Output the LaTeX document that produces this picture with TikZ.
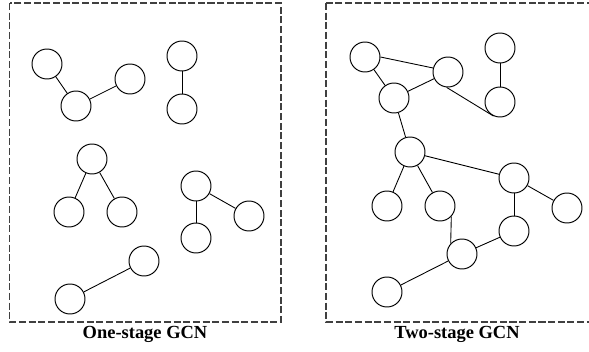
\documentclass[tikz,border=0pt]{standalone}
\usepackage{fontspec}
\setmainfont{Liberation Serif}
\tikzset{
  vtx/.style={draw, circle, line width=0.55pt, minimum size=0.6cm, inner sep=0pt},
  edge/.style={line width=0.5pt},
  frame/.style={draw=black!75, line width=0.6pt, dash pattern=on 4pt off 1.5pt},
  caption/.style={font=\fontsize{10.5}{12}\selectfont\bfseries}
}
\begin{document}
\begin{tikzpicture}[x=0.02cm, y=-0.02cm]
\useasboundingbox (0,0) rectangle (589,352);
\draw[frame] (9.5,3) rectangle (281,322);
\draw[frame] (326,3) rectangle (595,322);
\node[caption] (cap1) at (145,334) {One-stage GCN};
\node[caption] (cap2) at (457,334) {Two-stage GCN};
% one-stage
\node[vtx] (a1) at (47,64) {};
\node[vtx] (a2) at (76,106) {};
\node[vtx] (a3) at (130,79) {};
\node[vtx] (b1) at (182,56) {};
\node[vtx] (b2) at (182,109) {};
\node[vtx] (c1) at (92,159) {};
\node[vtx] (c2) at (69,212) {};
\node[vtx] (c3) at (122,212) {};
\node[vtx] (d1) at (196,186) {};
\node[vtx] (d2) at (249,216) {};
\node[vtx] (d3) at (196,238) {};
\node[vtx] (e1) at (144,261) {};
\node[vtx] (e2) at (70,299) {};
\draw[edge] (a1) -- (a2);
\draw[edge] (a2) -- (a3);
\draw[edge] (b1) -- (b2);
\draw[edge] (c1) -- (c2);
\draw[edge] (c1) -- (c3);
\draw[edge] (d1) -- (d2);
\draw[edge] (d1) -- (d3);
\draw[edge] (e1) -- (e2);
% two-stage
\node[vtx] (r1) at (365,57) {};
\node[vtx] (r2) at (448,72) {};
\node[vtx] (r3) at (394,98) {};
\node[vtx] (r4) at (500,48) {};
\node[vtx] (r5) at (500,102) {};
\node[vtx] (r6) at (410,152) {};
\node[vtx] (r7) at (387,206) {};
\node[vtx] (r8) at (440,206) {};
\node[vtx] (r9) at (514,178) {};
\node[vtx] (r10) at (567,208) {};
\node[vtx] (r11) at (514,231) {};
\node[vtx] (r12) at (462,254) {};
\node[vtx] (r13) at (387,292) {};
\draw[edge] (r1.east) -- (r2.165);
\draw[edge] (r1) -- (r3);
\draw[edge] (r3) -- (r2);
\draw[edge] (r2.-95) -- (r5.-115);
\draw[edge] (r4) -- (r5);
\draw[edge] (r3) -- (r6);
\draw[edge] (r6) -- (r7);
\draw[edge] (r6) -- (r8);
\draw[edge] (r6) -- (r9);
\draw[edge] (r9) -- (r10);
\draw[edge] (r9) -- (r11);
\draw[edge] (r8.-43) -- (r12.137);
\draw[edge] (r12) -- (r11);
\draw[edge] (r12) -- (r13);
\end{tikzpicture}
\end{document}
